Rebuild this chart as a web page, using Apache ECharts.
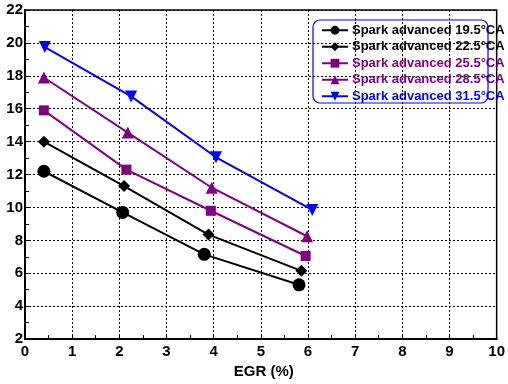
<!DOCTYPE html>
<html>
<head>
<meta charset="utf-8">
<script src="https://cdn.jsdelivr.net/npm/echarts@6/dist/echarts.min.js"></script>
<style>
  html, body { margin: 0; padding: 0; background: #fff; }
  #chart { width: 508px; height: 384px; }
</style>
</head>
<body>
<div id="chart"></div>
<script>
// EGR (%) vs value, one line per spark advance
var names = ['Spark advanced 19.5°CA', 'Spark advanced 22.5°CA', 'Spark advanced 25.5°CA',
             'Spark advanced 28.5°CA', 'Spark advanced 31.5°CA'];
var egr195 = [0.4, 2.07, 3.8, 5.81];
var val195 = [12.2, 9.7, 7.15, 5.3];
var egr225 = [0.4, 2.1, 3.89, 5.86];
var val225 = [14.0, 11.3, 8.35, 6.15];
var egr255 = [0.4, 2.15, 3.94, 5.95];
var val255 = [15.9, 12.3, 9.8, 7.05];
var egr285 = [0.4, 2.18, 3.96, 5.98];
var val285 = [17.9, 14.55, 11.2, 8.25];
var egr315 = [0.42, 2.25, 4.05, 6.09];
var val315 = [19.75, 16.75, 13.05, 9.85];

var colors = ['#000000', '#000000', '#800080', '#800080', '#0000ff'];
var symbols = ['circle', 'diamond', 'rect', 'triangle', 'path://M0,0 L10,0 L5,9 Z'];
var sizes = [13, 12, 10, 12, 12];

function pairs(xs, ys) {
  return xs.map(function (x, i) { return [x, ys[i]]; });
}
var seriesData = [
  pairs(egr195, val195), pairs(egr225, val225), pairs(egr255, val255),
  pairs(egr285, val285), pairs(egr315, val315)
];

var chart = echarts.init(document.getElementById('chart'));

var gridLine = { show: true, lineStyle: { color: '#000', type: [2, 2], width: 1 } };

var option = {
  animation: false,
  textStyle: { fontFamily: 'Liberation Sans, Arial, sans-serif' },
  grid: {
    left: 25, right: 8, top: 10, bottom: 38,
    show: true, borderColor: '#000', borderWidth: 1.5, backgroundColor: 'transparent'
  },
  legend: {
    left: 316, top: 18,
    orient: 'vertical',
    itemGap: 2,
    itemWidth: 26, itemHeight: 11,
    textStyle: { fontWeight: 'bold', fontSize: 13, lineHeight: 14.5, padding: [0, 0, 0, -1] },
    data: names.map(function (n, i) {
      return { name: n, textStyle: { color: colors[i] } };
    })
  },
  graphic: [{
    type: 'rect',
    shape: { x: 313, y: 20, width: 175, height: 83, r: 7 },
    style: { fill: 'none', stroke: '#0000ff', lineWidth: 1.2 },
    z: 100
  }],
  xAxis: {
    type: 'value', min: 0, max: 10, interval: 1,
    name: 'EGR (%)', nameLocation: 'middle', nameGap: 20,
    nameTextStyle: { fontWeight: 'bold', fontSize: 15, color: '#000', padding: [0, 0, 0, 6] },
    axisLine: { lineStyle: { color: '#000', width: 2 } },
    axisTick: { show: true, inside: true, length: 4, lineStyle: { color: '#000' } },
    minorTick: { show: true, splitNumber: 2, length: 4, lineStyle: { color: '#000' } },
    axisLabel: { color: '#000', fontWeight: 'bold', fontSize: 15, margin: 5 },
    splitLine: gridLine
  },
  yAxis: {
    type: 'value', min: 2, max: 22, interval: 2,
    axisLine: { show: true, lineStyle: { color: '#000', width: 2 } },
    axisTick: { show: true, inside: true, length: 4, lineStyle: { color: '#000' } },
    minorTick: { show: true, splitNumber: 2, length: 4, lineStyle: { color: '#000' } },
    axisLabel: { color: '#000', fontWeight: 'bold', fontSize: 15, margin: 2 },
    splitLine: gridLine
  },
  series: names.map(function (n, i) {
    return {
      name: n,
      type: 'line',
      data: seriesData[i],
      symbol: symbols[i],
      symbolSize: sizes[i],
      itemStyle: { color: colors[i] },
      lineStyle: { color: colors[i], width: 2 },
      z: 10 + i
    };
  })
};

chart.setOption(option);
</script>
</body>
</html>
